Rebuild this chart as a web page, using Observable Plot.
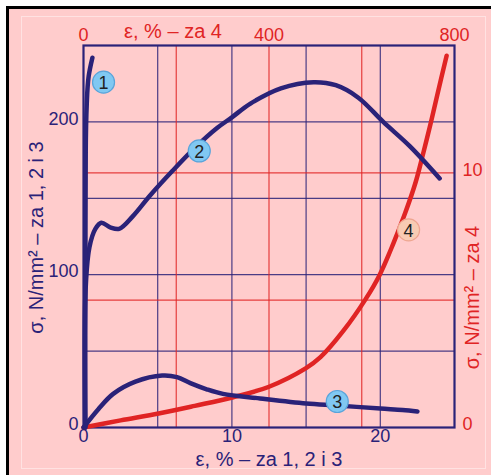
<!DOCTYPE html>
<html><head><meta charset="utf-8">
<script src="https://cdn.jsdelivr.net/npm/d3@7"></script>
<script src="https://cdn.jsdelivr.net/npm/@observablehq/plot@0.6"></script>
<style>
html,body{margin:0;padding:0;overflow:hidden;background:#fff;width:491px;height:475px}
#bg{position:absolute;left:6px;top:6px;width:520px;height:520px;border:3px solid #000;background:#ffcccc}
#inner{position:absolute;left:21px;top:16px;width:463px;height:451px;border:1px solid #ffe2e2}
#chart{position:absolute;left:0;top:0}
</style></head>
<body>
<div id="bg"></div><div id="inner"></div><div id="chart"></div>
<script>
// Bottom / left scales (curves 1, 2, 3)
const xDomain = [0, 25];          // ε, %
const yDomain = [0, 250];         // σ, N/mm²
// Top / right scales (curve 4)
const x2Domain = [0, 800];        // ε, %
const y2Domain = [0, 15];         // σ, N/mm²

const xTicks = [0, 10, 20];
const yTicks = [0, 100, 200];
const x2Ticks = [0, 400, 800];
const y2Ticks = [0, 10];
const xGrid = [5, 10, 15, 20];
const yGrid = [50, 100, 150, 200];
const x2Grid = [200, 400, 600];
const y2Grid = [5, 10];

// curve 1
const c1x = [0.12, 0.12, 0.13, 0.15, 0.22, 0.35, 0.6];
const c1y = [0, 60, 120, 180, 212, 230, 242];
// curve 2
const c2x = [0.12, 0.14, 0.4, 0.8, 1.2, 1.8, 2.4, 3.3, 4.5, 6, 7.5, 9, 10, 11.25, 13.3, 15.5, 17, 18.5, 20.2, 22, 24];
const c2y = [0, 90, 118, 130, 134, 131, 130, 138, 152, 168, 183, 196, 203, 212, 222, 226, 224, 216, 200, 184, 163];
// curve 3
const c3x = [0, 1, 2, 3.5, 5.3, 6.3, 7.2, 8.3, 9.4, 11.9, 15, 17.1, 20, 21.5, 22.5];
const c3y = [0, 12, 22, 30, 34, 33, 29, 25, 22, 19, 15.7, 14.4, 12.4, 11.5, 10.5];
// curve 4 (top / right scales)
const c4x = [0, 80, 162, 240, 321, 400, 479, 511, 561, 608, 638, 668, 694, 716, 733, 748, 763, 783];
const c4y = [0, 0.28, 0.55, 0.85, 1.18, 1.6, 2.32, 2.76, 3.81, 5.03, 5.97, 7.22, 8.44, 9.62, 10.8, 11.9, 13.07, 14.6];

// curve labels
const labelText = ["1", "2", "3", "4"];
const labelX = [1.35, 7.8, 17.1, 701];
const labelY = [226, 181, 17, 7.76];
const labelAxis = ["bottom", "bottom", "bottom", "top"];

const navy = "#2a2278";
const red = "#e02424";
const kx = (xDomain[1] - xDomain[0]) / (x2Domain[1] - x2Domain[0]);
const ky = (yDomain[1] - yDomain[0]) / (y2Domain[1] - y2Domain[0]);

const zip = (xs, ys) => xs.map((x, i) => ({x, y: ys[i]}));
const c1 = zip(c1x, c1y), c2 = zip(c2x, c2y), c3 = zip(c3x, c3y);
const c4 = c4x.map((x, i) => ({x: x * kx, y: c4y[i] * ky}));
const labels = labelText.map((t, i) => ({
  t,
  x: labelAxis[i] === "top" ? labelX[i] * kx : labelX[i],
  y: labelAxis[i] === "top" ? labelY[i] * ky : labelY[i],
  fill: labelAxis[i] === "top" ? "#f8cbb3" : "#80c8f2",
  stroke: labelAxis[i] === "top" ? "#eea590" : "#5aa4da"
}));

const plot = Plot.plot({
  width: 491, height: 475,
  marginLeft: 83, marginRight: 37, marginTop: 45, marginBottom: 48,
  style: {background: "transparent", fontFamily: "Liberation Sans, Arial, sans-serif", fontSize: "18px", overflow: "visible"},
  x: {domain: xDomain},
  y: {domain: yDomain},
  marks: [
    Plot.ruleX(xGrid, {stroke: navy, strokeWidth: 1.2, strokeOpacity: 0.85}),
    Plot.ruleY(yGrid, {stroke: navy, strokeWidth: 1.2, strokeOpacity: 0.85}),
    Plot.ruleX(x2Grid.map(v => v * kx), {stroke: red, strokeWidth: 1.2, strokeOpacity: 0.85}),
    Plot.ruleY(y2Grid.map(v => v * ky), {stroke: red, strokeWidth: 1.2, strokeOpacity: 0.85}),
    Plot.frame({stroke: navy, strokeWidth: 2.2}),
    Plot.line(c4, {x: "x", y: "y", stroke: red, strokeWidth: 4.5, curve: "catmull-rom"}),
    Plot.line(c3, {x: "x", y: "y", stroke: navy, strokeWidth: 4.5, curve: "catmull-rom"}),
    Plot.line(c2, {x: "x", y: "y", stroke: navy, strokeWidth: 4.5, curve: "catmull-rom"}),
    Plot.line(c1, {x: "x", y: "y", stroke: navy, strokeWidth: 4.5, curve: "monotone-y"}),
    Plot.dot(labels, {x: "x", y: "y", r: 11, fill: d => d.fill, stroke: d => d.stroke, strokeWidth: 1.2}),
    Plot.text(labels, {x: "x", y: "y", text: "t", fill: "#222", fontSize: 18, dy: 1}),
    Plot.axisX(xTicks, {anchor: "bottom", tickSize: 0, tickPadding: 2, color: navy, label: null}),
    Plot.axisY(yTicks, {anchor: "left", tickSize: 0, tickPadding: 5, color: navy, label: null, dy: -3}),
    Plot.axisX(x2Ticks.map(v => v * kx), {anchor: "top", tickSize: 0, tickPadding: 5, color: red, label: null, tickFormat: d => Math.round(d / kx)}),
    Plot.axisY(y2Ticks.map(v => v * ky), {anchor: "right", tickSize: 0, tickPadding: 8, color: red, label: null, dy: -3, tickFormat: d => Math.round(d / ky)}),
    Plot.text(["ε, % – za 1, 2 i 3"], {frameAnchor: "bottom", dy: 32, lineAnchor: "middle", fill: navy, fontSize: 20}),
    Plot.text(["ε, % – za 4"], {frameAnchor: "top", dx: -96, dy: -14, lineAnchor: "middle", fill: red, fontSize: 20}),
    Plot.text(["σ, N/mm² – za 1, 2 i 3"], {frameAnchor: "left", textAnchor: "middle", lineAnchor: "middle", dx: -47, dy: 1, rotate: -90, fill: navy, fontSize: 20}),
    Plot.text(["σ, N/mm² – za 4"], {frameAnchor: "right", textAnchor: "middle", lineAnchor: "middle", dx: 18, dy: 61, rotate: -90, fill: red, fontSize: 20})
  ]
});
document.getElementById("chart").appendChild(plot);
</script>
</body></html>
